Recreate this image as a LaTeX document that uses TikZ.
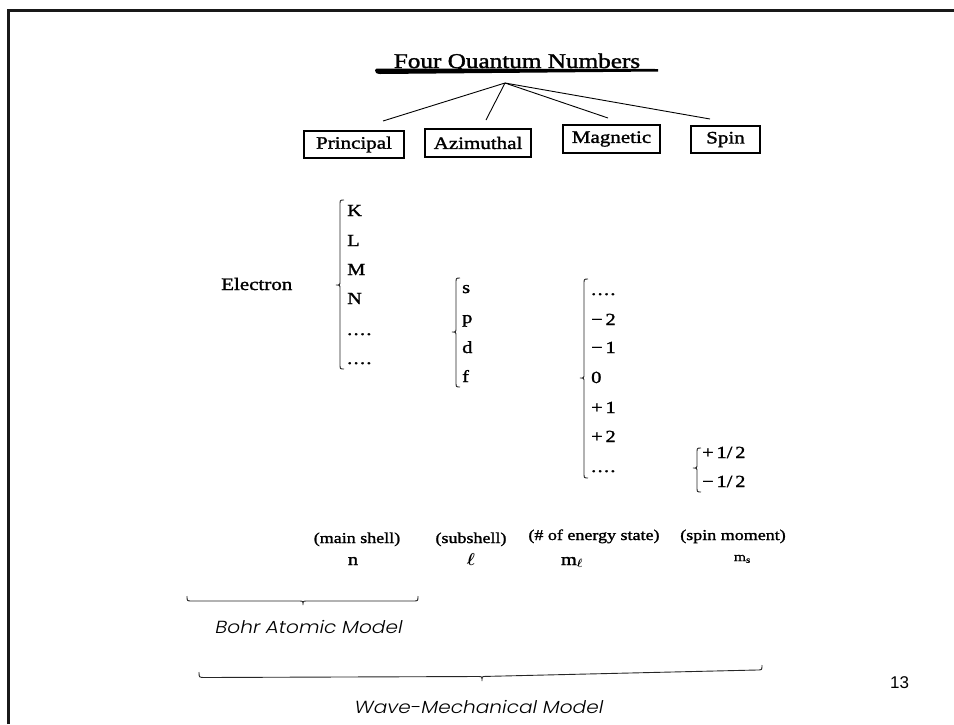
\documentclass[tikz,border=0pt]{standalone}
\usepackage{bm}
\usepackage{fontspec}
\setmainfont{Liberation Serif}[FakeStretch=1.2,FakeBold=1.5]
\newfontfamily\gothic{Poppins Light}[FakeSlant=0.2,FakeStretch=1.15]
\newfontfamily\arialf{Liberation Sans}
\newcommand{\fs}[1]{\fontsize{#1}{#1}\selectfont}
\newcommand{\dts}{.\kern1.3pt.\kern1.3pt.\kern1.3pt.}
% left brace: x, ytop, ybottom, ytip
\newcommand{\lbr}[4]{%
  \draw[bracel] (#1+4,#2) .. controls (#1,#2) .. (#1,#2+5) -- (#1,#4-4)
    .. controls (#1,#4) .. (#1-4,#4) .. controls (#1,#4) .. (#1,#4+4)
    -- (#1,#3-5) .. controls (#1,#3) .. (#1+4,#3);}
\begin{document}
\begin{tikzpicture}[x=1pt,y=-1pt,
  qbox/.style={draw, line width=1.6pt, inner sep=0pt, font=\fs{17.5}},
  item/.style={anchor=base west, inner sep=0pt, font=\fs{17}},
  lab/.style={anchor=base, inner sep=0pt, font=\fs{15}},
  sym/.style={anchor=base, inner sep=0pt, font=\fs{17}},
  model/.style={anchor=base, inner sep=0pt, font=\gothic\fs{17.5}},
  conn/.style={line width=0.9pt},
  bracel/.style={line width=0.9pt, draw=black!85},
  frame/.style={line width=3pt, draw=black!90}]
\useasboundingbox (0,0) rectangle (954,724);
\fill[white] (0,0) rectangle (954,724);
% frame
\draw[frame] (8.5,724) -- (8.5,10.5) -- (954,10.5);
% title
\node[anchor=base, inner sep=0pt, font=\fs{21}] (title) at (517,68) {Four Quantum Numbers};
\fill[black] (375,70) .. controls (376,73.5) .. (380,74) -- (658,71.5) -- (658,69) -- (380,68.5) .. controls (376,68.5) .. (375,70) -- cycle;
% boxes
\node[qbox, minimum width=100pt, minimum height=27pt] (prin) at (354,144.5) {Principal};
\node[qbox, minimum width=106pt, minimum height=28pt] (azim) at (478,143) {Azimuthal};
\node[qbox, minimum width=97pt, minimum height=28pt] (magn) at (611.5,139) {Magnetic};
\node[qbox, minimum width=69pt, minimum height=27pt] (spin) at (725.5,139.5) {Spin};
% connectors
\coordinate (apex) at (505,83);
\coordinate (e1) at (383,121);
\coordinate (e2) at (486,120);
\coordinate (e3) at (608,118);
\coordinate (e4) at (710,119);
\draw[conn] (apex) -- (e1);
\draw[conn] (apex) -- (e2);
\draw[conn] (apex) -- (e3);
\draw[conn] (apex) -- (e4);
% Electron
\node[item, font=\fs{17.5}] (electron) at (221,290) {Electron};
% principal list
\lbr{340}{200}{369}{285}
\node[item] (K) at (347,216) {K};
\node[item] (L) at (347,246) {L};
\node[item] (M) at (347,275) {M};
\node[item] (N) at (347,304) {N};
\node[item] (d1) at (347,335) {\dts};
\node[item] (d2) at (347,364) {\dts};
% azimuthal list
\lbr{456}{278}{387}{332}
\node[item] (s) at (462,293) {s};
\node[item] (p) at (462,323) {p};
\node[item] (d) at (462,353) {d};
\node[item] (f) at (462,382) {f};
% magnetic list
\lbr{584}{279}{478}{378}
\node[item] (m0) at (591,295) {\dts};
\node[item] (m1) at (591,325) {−\,2};
\node[item] (m2) at (591,353) {−\,1};
\node[item] (m3) at (591,383) {0};
\node[item] (m4) at (591,413) {+\,1};
\node[item] (m5) at (591,442) {+\,2};
\node[item] (m6) at (591,472) {\dts};
% spin list
\lbr{697}{448}{492}{468}
\node[item] (sp1) at (702,458) {+\,1/\,2};
\node[item] (sp2) at (702,487) {−\,1/\,2};
% bottom labels
\node[lab] (l1) at (357,543) {(main shell)};
\node[sym] (n) at (353,565) {n};
\node[lab] (l2) at (471,543) {(subshell)};
\node[sym] (ell) at (471,565) {$\bm{\ell}$};
\node[lab] (l3) at (594,540) {(\# of energy state)};
\node[sym] (ml) at (572,565) {m$_{\bm{\ell}}$};
\node[lab] (l4) at (733,540) {(spin moment)};
\node[sym, font=\fs{13}] (ms) at (742,561) {m$_{\mathrm{s}}$};
% bottom braces
\draw[bracel] (187,596) .. controls (187,601) .. (192,601) -- (299,601)
  .. controls (303,601) .. (303,605) .. controls (303,601) .. (307,601)
  -- (413,601) .. controls (418,601) .. (418,596);
\node[model] (bohr) at (308,633) {Bohr Atomic Model};
\draw[bracel] (199,672) .. controls (199,677.5) .. (205,677.5) -- (478,676.5)
  .. controls (482,676.5) .. (482,681) .. controls (482,676.4) .. (486,676.4)
  -- (757,670) .. controls (762,670) .. (762,665);
\node[model] (wave) at (478,713) {Wave-Mechanical Model};
% page number
\node[anchor=base west, inner sep=0pt, font=\arialf\fs{17}] (pg) at (890,688) {13};
\end{tikzpicture}
\end{document}
